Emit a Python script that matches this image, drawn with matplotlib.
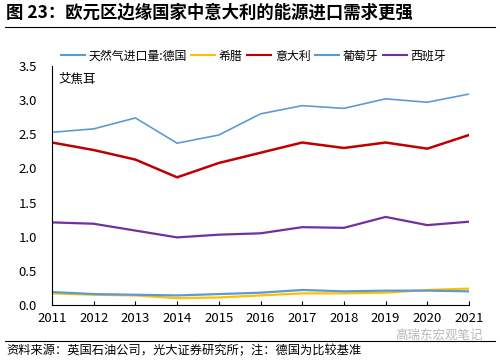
import matplotlib
matplotlib.use("Agg")
import matplotlib.pyplot as plt
from matplotlib.lines import Line2D

plt.rcParams["font.family"] = ["Noto Sans CJK SC", "DejaVu Sans"]

years = list(range(2011, 2022))
germany = [2.53, 2.58, 2.74, 2.37, 2.49, 2.80, 2.92, 2.88, 3.02, 2.97, 3.09]
greece = [0.17, 0.15, 0.14, 0.10, 0.11, 0.14, 0.17, 0.17, 0.18, 0.22, 0.24]
italy = [2.38, 2.27, 2.13, 1.87, 2.08, 2.23, 2.38, 2.30, 2.38, 2.29, 2.49]
portugal = [0.19, 0.16, 0.15, 0.14, 0.16, 0.18, 0.22, 0.20, 0.21, 0.21, 0.20]
spain = [1.21, 1.19, 1.09, 0.99, 1.03, 1.05, 1.14, 1.13, 1.29, 1.17, 1.22]

labels = ["天然气进口量:德国", "希腊", "意大利", "葡萄牙", "西班牙"]
colors = ["#5B9BD5", "#FFC000", "#C00000", "#5B9BD5", "#7030A0"]

fig = plt.figure(figsize=(5, 3.62), dpi=100, facecolor="white")
ax = fig.add_axes([0.104, 0.1575, 0.834, 0.66])

series = [germany, greece, italy, portugal, spain]
widths = [1.2, 1.6, 1.8, 1.6, 1.6]
for s, c, lw, lb in zip(series, colors, widths, labels):
    ax.plot(years, s, color=c, lw=lw, label=lb)

ax.set_xlim(2011, 2021)
ax.set_ylim(0, 3.5)
ax.set_xticks(years)
ax.set_yticks([0, 0.5, 1.0, 1.5, 2.0, 2.5, 3.0, 3.5])
ax.set_yticklabels(["0.0", "0.5", "1.0", "1.5", "2.0", "2.5", "3.0", "3.5"])
ax.tick_params(axis="both", labelsize=9.5, length=3, color="black")
ax.tick_params(axis="x", direction="in", pad=5)
ax.tick_params(axis="y", length=0, pad=11)
for sp in ["top", "right"]:
    ax.spines[sp].set_visible(False)
ax.spines["left"].set_color("black")
ax.spines["bottom"].set_color("black")

ax.text(0.015, 0.97, "艾焦耳", transform=ax.transAxes, fontsize=9, va="top")

handles = [Line2D([0], [0], color=c, lw=1.5) for c in colors]
fig.legend(handles, labels, loc="center", bbox_to_anchor=(0.507, 0.845),
           ncol=5, frameon=False, fontsize=8.6, handlelength=2.0,
           columnspacing=0.4, handletextpad=0.3)

# title and footer
fig.text(0.012, 0.965, "图 23：欧元区边缘国家中意大利的能源进口需求更强",
         fontsize=12.5, fontweight="bold", va="center", ha="left")
fig.add_artist(Line2D([0.01, 0.99], [0.925, 0.925], color="black", lw=0.8))
fig.add_artist(Line2D([0.01, 0.99], [0.058, 0.058], color="black", lw=0.8))
fig.text(0.012, 0.03, "资料来源：英国石油公司，光大证券研究所；注：德国为比较基准",
         fontsize=8.8, va="center", ha="left")
fig.text(0.965, 0.075, "高瑞东宏观笔记", fontsize=9, color="#b8b8b8",
         va="center", ha="right")

fig.savefig("out.png", dpi=100, facecolor="white")
